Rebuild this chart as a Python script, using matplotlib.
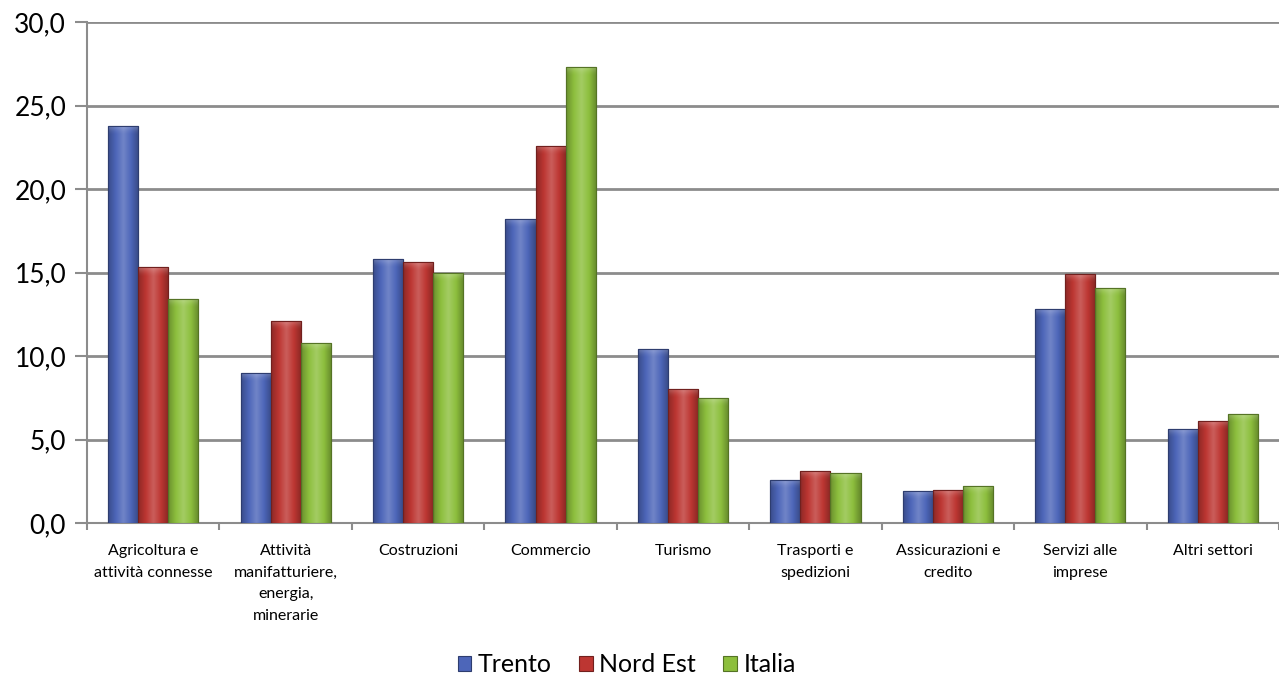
import numpy as np
import matplotlib.pyplot as plt
from matplotlib.colors import LinearSegmentedColormap, to_rgb
from matplotlib.ticker import FuncFormatter, FixedLocator

plt.rcParams['font.family'] = ['Lato', 'DejaVu Sans']

settori = ['Agricoltura e\nattività connesse', 'Attività\nmanifatturiere,\nenergia,\nminerarie',
           'Costruzioni', 'Commercio', 'Turismo', 'Trasporti e\nspedizioni',
           'Assicurazioni e\ncredito', 'Servizi alle\nimprese', 'Altri settori']
trento = [23.8, 9.0, 15.8, 18.2, 10.4, 2.6, 1.9, 12.8, 5.6]
nord_est = [15.3, 12.1, 15.6, 22.6, 8.0, 3.1, 2.0, 14.9, 6.1]
italia = [13.4, 10.8, 15.0, 27.3, 7.5, 3.0, 2.2, 14.1, 6.5]

serie = [('Trento', trento, '#4d66b9'),
         ('Nord Est', nord_est, '#bd3632'),
         ('Italia', italia, '#8dbf3d')]

fig = plt.figure(figsize=(12.79, 6.85), dpi=100)
ax = fig.add_axes([87 / 1279, 1 - 523 / 685, 1 - 87 / 1279, (523 - 22) / 685])

x = np.arange(len(settori))
w = 0.227


def shade(c):
    r = np.array(to_rgb(c))
    dark = r * 0.75
    light = np.clip(r + (1 - r) * 0.2, 0, 1)
    return LinearSegmentedColormap.from_list('s', [dark, r, light, r, dark * 0.95])


# riflesso chiaro sulla sommità delle barre
top_cm = LinearSegmentedColormap.from_list('t', [(1, 1, 1, 0.0), (1, 1, 1, 0.3)])
grad = np.linspace(0, 1, 64).reshape(1, -1)
vgrad = np.linspace(1, 0, 32).reshape(-1, 1)  # riga 0 in alto

for i, (nome, vals, col) in enumerate(serie):
    edge = np.array(to_rgb(col)) * 0.6
    bars = ax.bar(x + (i - 1) * w, vals, w, color=col, edgecolor=edge, linewidth=0.8,
                  label=nome, zorder=3)
    cm = shade(col)
    for b in bars:
        x0, y0, bw, bh = b.get_x(), b.get_y(), b.get_width(), b.get_height()
        im = ax.imshow(grad, cmap=cm, aspect='auto', extent=(x0, x0 + bw, y0, y0 + bh),
                       zorder=4, interpolation='bicubic')
        im.set_clip_path(b)
        hb = min(0.6, bh)
        im2 = ax.imshow(vgrad ** 2, cmap=top_cm, aspect='auto',
                        extent=(x0, x0 + bw, y0 + bh - hb, y0 + bh), zorder=5,
                        interpolation='bicubic')
        im2.set_clip_path(b)
        ax.bar(b.get_x() + bw / 2, bh, bw, bottom=y0, fill=False, edgecolor=edge,
               linewidth=0.8, zorder=6)

ax.set_xlim(-0.5, len(settori) - 0.5)
ax.set_ylim(0, 30)
ax.set_yticks(np.arange(0, 31, 5))
ax.yaxis.set_major_formatter(FuncFormatter(lambda v, p: f'{v:.1f}'.replace('.', ',')))
ax.grid(axis='y', color='#8c8c8c', lw=2, zorder=0)
for s in ['top', 'right']:
    ax.spines[s].set_visible(False)
ax.spines['left'].set_color('#8c8c8c')
ax.spines['left'].set_linewidth(1.5)
ax.spines['bottom'].set_color('#8c8c8c')
ax.spines['bottom'].set_linewidth(1.5)
ax.tick_params(axis='y', length=9, width=1.5, color='#8c8c8c', labelsize=19, pad=6)

ax.xaxis.set_major_locator(FixedLocator(np.arange(-0.5, len(settori), 1)))
ax.set_xticklabels([])
ax.set_xticks(x, minor=True)
ax.set_xticklabels(settori, minor=True, fontsize=11.5, linespacing=1.7, va='top')
ax.tick_params(axis='x', which='major', length=5, width=1.5, color='#8c8c8c')
ax.tick_params(axis='x', which='minor', length=0, pad=15)

fig.legend(loc='lower center', ncol=3, frameon=False, fontsize=18, handlelength=0.55,
           handleheight=0.55, handletextpad=0.25, columnspacing=1.1, bbox_to_anchor=(0.49, -0.02))

fig.savefig('out.png', dpi=100)
